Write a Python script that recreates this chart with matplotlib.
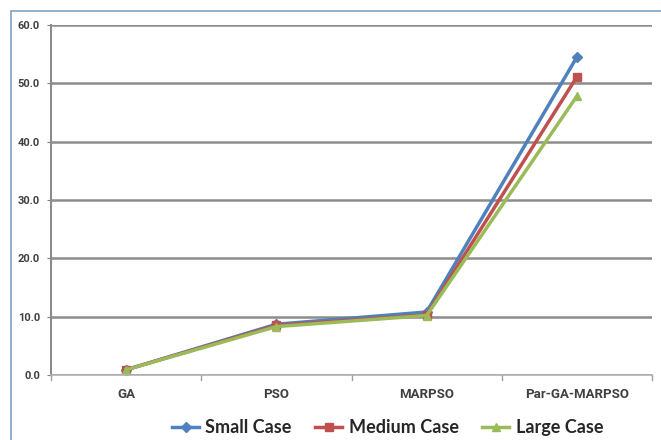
import matplotlib.pyplot as plt
from matplotlib.patches import Rectangle

# algorithms compared on the x axis
algorithms = ["GA", "PSO", "MARPSO", "Par-GA-MARPSO"]

# values for each problem size
small_case = [0.9, 8.7, 10.8, 54.5]
medium_case = [0.9, 8.5, 10.3, 51.1]
large_case = [0.9, 8.3, 10.2, 47.8]

plt.rcParams['font.family'] = ['Lato', 'DejaVu Sans']
fig = plt.figure(figsize=(6.61, 4.40), dpi=100)

# thin blue frame round the chart area
fig.patches.append(Rectangle((11 / 661, -0.1), 1.2, 1 - 11 / 440 + 0.1,
                             transform=fig.transFigure, fill=False,
                             edgecolor='#7ea3c9', linewidth=1.2))

ax = fig.add_axes([51 / 661, 65 / 440, 601 / 661, 350 / 440])

x = list(range(len(algorithms)))
ax.plot(x, small_case, color='#4f81bd', marker='D', markersize=5, linewidth=2.5, label='Small Case')
ax.plot(x, medium_case, color='#c0504d', marker='s', markersize=6, linewidth=2.5, label='Medium Case')
ax.plot(x, large_case, color='#9bbb59', marker='^', markersize=6, linewidth=2.5, label='Large Case')

tick_font = {'family': ['Roboto', 'DejaVu Sans'], 'weight': 'bold', 'color': '#404040'}

ax.set_xlim(-0.5, len(algorithms) - 0.5)
ax.set_ylim(0, 60)
ax.set_yticks(range(0, 61, 10))
ax.set_yticklabels([f"{v:.1f}" for v in range(0, 61, 10)], fontsize=8, **tick_font)
ax.set_xticks(x)
ax.set_xticklabels(algorithms, fontsize=9.5, **tick_font)

# category separators below the x axis
for b in [-0.5, 0.5, 1.5, 2.5, 3.5]:
    ax.plot([b, b], [0, -0.8], color='#a0a0a0', linewidth=1, clip_on=False)
ax.tick_params(axis='x', length=0, pad=9)
ax.tick_params(axis='y', length=3, color='#808080', pad=5)

ax.grid(axis='y', color='#8c8c8c', linewidth=1.8)
ax.set_axisbelow(True)
for side in ['top', 'right']:
    ax.spines[side].set_visible(False)
ax.spines['left'].set_color('#8c8c8c')
ax.spines['left'].set_linewidth(1.5)
ax.spines['bottom'].set_color('#b0b0b0')
ax.spines['bottom'].set_linewidth(1.2)

leg = ax.legend(loc='upper center', bbox_to_anchor=(0.56, -0.08), ncol=3,
                frameon=False, prop={'size': 13, 'weight': 'bold'},
                handlelength=1.5, columnspacing=1.3, handletextpad=0.35)
for t in leg.get_texts():
    t.set_color('#262626')

fig.savefig('out.png', dpi=100)
